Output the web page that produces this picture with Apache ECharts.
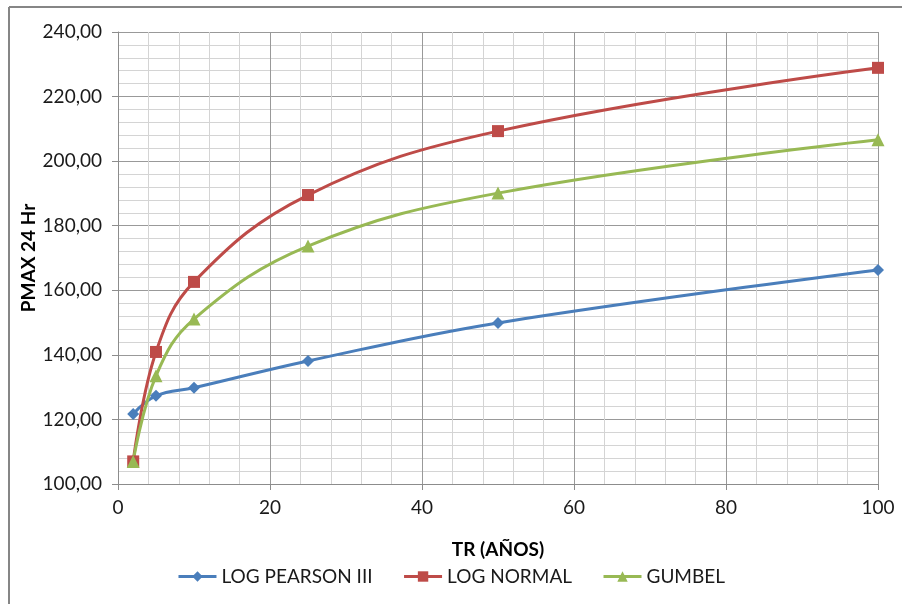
<!DOCTYPE html>
<html>
<head>
<meta charset="utf-8">
<script src="https://cdn.jsdelivr.net/npm/echarts@6/dist/echarts.min.js"></script>
<style>
  html, body { margin: 0; padding: 0; background: #fff; }
  #chart { width: 902px; height: 604px; }
</style>
</head>
<body>
<div id="chart"></div>
<script>
// Return periods (years)
const periods = [2, 5, 10, 25, 50, 100];
// Maximum 24 h precipitation by distribution
const logPearson = [121.7, 127.3, 129.8, 138.1, 149.9, 166.3];
const logNormal  = [107.0, 140.9, 162.6, 189.5, 209.3, 228.9];
const gumbel     = [107.0, 133.5, 151.1, 173.7, 190.1, 206.6];

const seriesNames = ['LOG PEARSON III', 'LOG NORMAL', 'GUMBEL'];
const seriesColors = ['#4a7ebb', '#be4b48', '#98b954'];
const seriesSymbols = ['diamond', 'rect', 'triangle'];
const seriesValues = [logPearson, logNormal, gumbel];

const FONT = 'Lato, "Liberation Sans", sans-serif';

const chart = echarts.init(document.getElementById('chart'));

const fmt = v => v.toFixed(2).replace('.', ',');

chart.setOption({
  animation: false,
  backgroundColor: '#fff',
  textStyle: { fontFamily: FONT },
  grid: { left: 118, right: 24, top: 32, bottom: 120 },
  legend: {
    bottom: 13,
    left: 'center',
    itemWidth: 38,
    itemHeight: 13,
    itemGap: 30,
    lineStyle: { width: 3 },
    textStyle: { fontSize: 19, color: '#1a1a1a', fontFamily: FONT },
    data: seriesNames
  },
  xAxis: {
    type: 'value',
    min: 0, max: 100, interval: 20,
    name: 'TR (AÑOS)',
    nameLocation: 'middle',
    nameGap: 56,
    nameTextStyle: { fontSize: 19, fontWeight: 'bold', color: '#000', fontFamily: FONT },
    axisLine: { show: true, lineStyle: { color: '#8c8c8c', width: 1 } },
    axisTick: { show: true, length: 6, lineStyle: { color: '#8c8c8c' } },
    axisLabel: { fontSize: 19, color: '#1a1a1a', margin: 14 },
    splitLine: { show: true, lineStyle: { color: '#999', width: 1 } },
    minorTick: { show: false, splitNumber: 5 },
    minorSplitLine: { show: true, lineStyle: { color: '#d4d4d4', width: 1 } }
  },
  yAxis: {
    type: 'value',
    min: 100, max: 240, interval: 20,
    name: 'PMAX 24 Hr',
    nameLocation: 'middle',
    nameGap: 80,
    nameMoveOverlap: false,
    nameTextStyle: { fontSize: 19, fontWeight: 'bold', color: '#000', fontFamily: FONT },
    axisLine: { show: true, lineStyle: { color: '#8c8c8c', width: 1 } },
    axisTick: { show: true, length: 6, lineStyle: { color: '#8c8c8c' } },
    axisLabel: { fontSize: 19, color: '#1a1a1a', margin: 16, formatter: fmt },
    splitLine: { show: true, lineStyle: { color: '#999', width: 1 } },
    minorTick: { show: false, splitNumber: 5 },
    minorSplitLine: { show: true, lineStyle: { color: '#d4d4d4', width: 1 } }
  },
  series: seriesNames.map((name, i) => ({
    name: name,
    type: 'line',
    smooth: 0.4,
    data: periods.map((p, k) => [p, seriesValues[i][k]]),
    symbol: seriesSymbols[i],
    symbolSize: i === 2 ? 13 : 12,
    showAllSymbol: true,
    lineStyle: { color: seriesColors[i], width: 3 },
    itemStyle: { color: seriesColors[i] },
    emphasis: { disabled: true }
  })),
  graphic: [
    { type: 'line', shape: { x1: 9, y1: 7, x2: 902, y2: 7 }, style: { stroke: '#868686', lineWidth: 2 }, silent: true },
    { type: 'line', shape: { x1: 9, y1: 7, x2: 9, y2: 604 }, style: { stroke: '#868686', lineWidth: 2 }, silent: true }
  ]
});
</script>
</body>
</html>
